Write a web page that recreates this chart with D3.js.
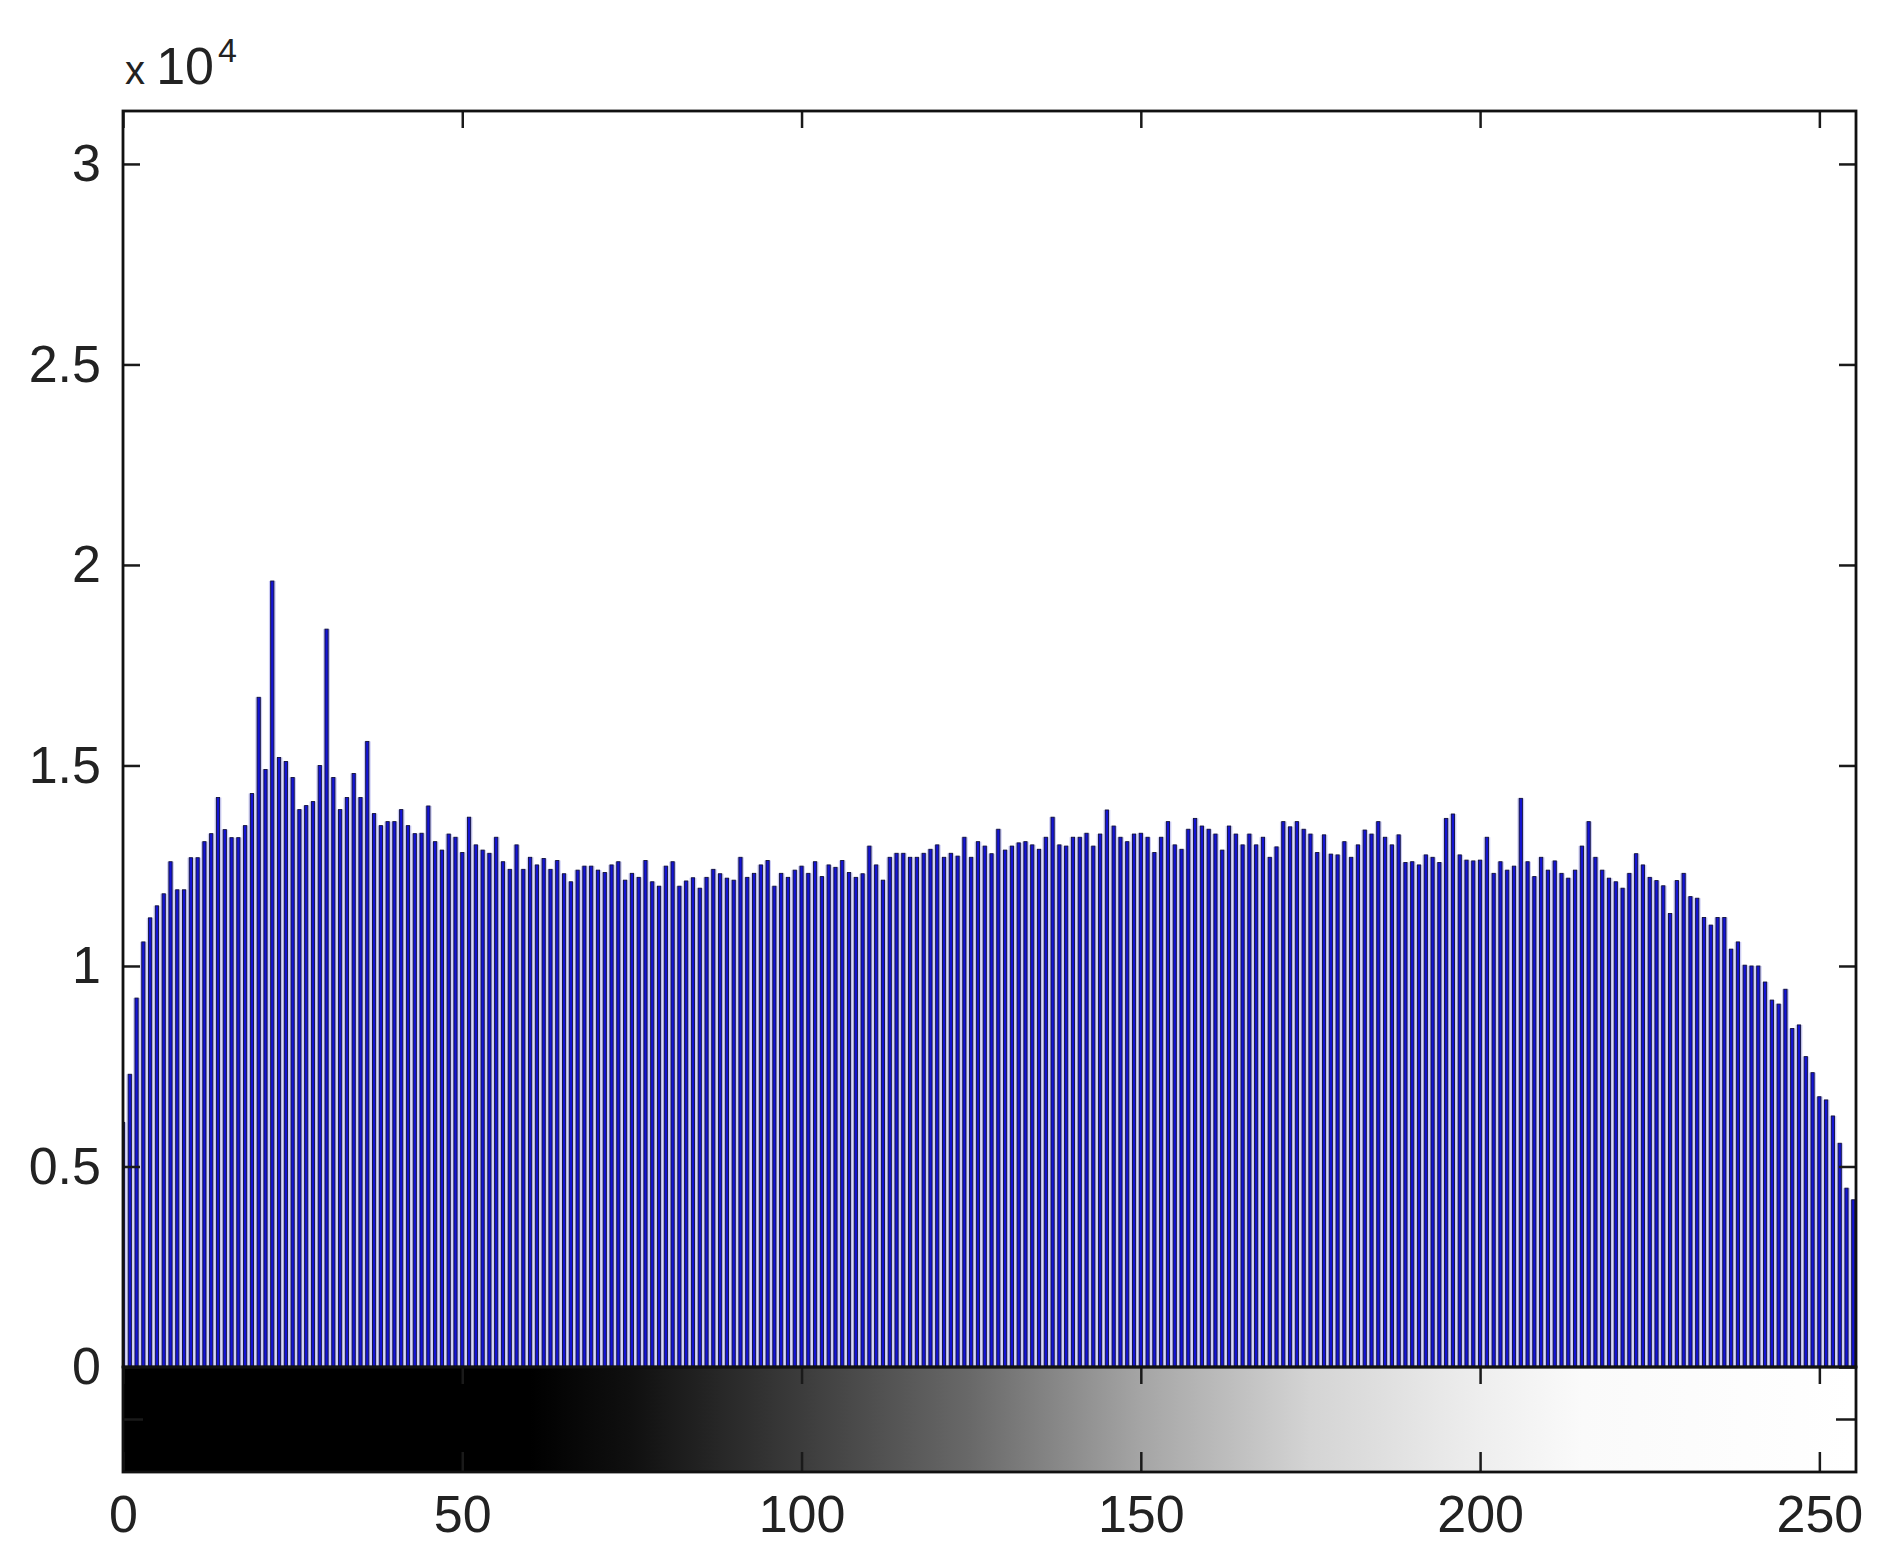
<!DOCTYPE html>
<html>
<head>
<meta charset="utf-8">
<script src="https://cdn.jsdelivr.net/npm/d3@7"></script>
<style>
  body { margin: 0; background: #fff; }
  svg { display: block; }
  .tick text { font-family: "Liberation Sans Narrow", "Arial Narrow", "Liberation Sans", sans-serif; font-size: 52px; fill: #222; }
</style>
</head>
<body>
<div id="chart"></div>
<script>
// histogram counts, in units of 10^4, one value per gray level 0..255
var countsE4 = [
  0.61,0.73,0.92,1.06,1.12,1.15,1.18,1.26,1.19,1.19,1.27,1.27,1.31,1.33,1.42,1.34,1.32,1.32,1.35,1.43,1.67,1.49,
  1.96,1.52,1.51,1.47,1.39,1.40,1.41,1.50,1.84,1.47,1.39,1.42,1.48,1.42,1.56,1.38,1.35,1.36,1.36,1.39,1.35,1.33,
  1.331,1.399,1.310,1.289,1.329,1.321,1.283,1.371,1.302,1.289,1.281,1.321,1.260,1.241,1.302,1.241,1.271,1.252,
  1.268,1.241,1.263,1.230,1.210,1.239,1.249,1.249,1.239,1.233,1.252,1.260,1.214,1.231,1.221,1.263,1.210,1.199,
  1.249,1.260,1.199,1.212,1.220,1.194,1.221,1.241,
  1.230,1.219,1.214,1.271,1.221,1.231,1.252,1.263,1.199,1.231,1.221,1.239,1.249,1.231,1.260,1.223,1.252,1.246,
  1.263,1.233,1.221,1.230,1.299,1.252,1.214,1.271,1.281,1.281,1.271,1.271,1.281,1.291,1.302,1.271,1.281,1.274,
  1.321,1.271,1.310,1.299,1.280,1.341,1.289,1.299,
  1.307,1.310,1.302,1.291,1.321,1.371,1.302,1.299,1.321,1.321,1.331,1.299,1.329,1.389,1.349,1.321,1.310,1.329,
  1.331,1.321,1.283,1.321,1.360,1.302,1.291,1.341,1.368,1.349,1.341,1.329,1.289,1.349,1.329,1.302,1.329,1.302,
  1.321,1.271,1.297,1.360,1.347,1.360,1.341,1.329,
  1.283,1.327,1.279,1.277,1.310,1.271,1.302,1.339,1.329,1.360,1.321,1.302,1.327,1.258,1.260,1.252,1.277,1.271,
  1.258,1.368,1.379,1.277,1.264,1.262,1.264,1.321,1.231,1.260,1.239,1.249,1.418,1.260,1.223,1.271,1.239,1.262,
  1.231,1.219,1.239,1.299,1.360,1.271,1.239,1.219,1.210,
  1.194,1.231,1.280,1.252,1.221,1.213,1.200,1.131,1.213,1.231,1.173,1.169,1.121,1.102,1.121,1.121,1.042,1.060,
  1.002,1.000,1.000,0.960,0.915,0.905,0.942,0.844,0.853,0.774,0.734,0.674,0.666,0.626,0.558,0.446,0.417
];
var yTicks = [0, 0.5, 1, 1.5, 2, 2.5, 3];
var yTickLabels = ["0", "0.5", "1", "1.5", "2", "2.5", "3"];
var xTicks = [0, 50, 100, 150, 200, 250];

// gray ramp of the colour bar as it shows in the picture (level -> shade)
var rampLevels = [0, 60, 75, 100, 125, 150, 175, 200, 215, 255];
var rampShades = [0, 0, 16, 60, 105, 165, 212, 238, 250, 255];

var W = 1900, H = 1564;
var plotLeft = 123, plotRight = 1856, plotTop = 111, zeroY = 1367, barBottom = 1472;
var tickLen = 17;

var x = d3.scaleLinear().domain([0, 255.4]).range([plotLeft, plotRight]);
var y = d3.scaleLinear().domain([0, 3.132]).range([zeroY, plotTop]);
var step = x(1) - x(0);

var svg = d3.select("#chart").append("svg")
    .attr("width", W)
    .attr("height", H);

var defs = svg.append("defs");
defs.append("clipPath").attr("id", "plotclip")
  .append("rect")
    .attr("x", plotLeft).attr("y", plotTop)
    .attr("width", plotRight - plotLeft).attr("height", zeroY - plotTop);

// gradient for the gray colour bar
var grad = defs.append("linearGradient")
    .attr("id", "grayramp")
    .attr("x1", "0%").attr("x2", "100%").attr("y1", "0%").attr("y2", "0%");
rampLevels.forEach(function(v, i) {
  var s = rampShades[i];
  grad.append("stop")
    .attr("offset", ((x(v) - plotLeft) / (plotRight - plotLeft) * 100) + "%")
    .attr("stop-color", d3.rgb(s, s, s));
});

// histogram stems
var plot = svg.append("g").attr("clip-path", "url(#plotclip)");

plot.selectAll("rect.bg")
  .data(countsE4)
  .enter().append("rect")
    .attr("class", "bg")
    .attr("x", function(d, i) { return x(i) - step / 2; })
    .attr("y", function(d) { return y(d); })
    .attr("width", step)
    .attr("height", function(d) { return zeroY - y(d); })
    .attr("fill", "#cdcdf3");

plot.selectAll("rect.stem")
  .data(countsE4)
  .enter().append("rect")
    .attr("class", "stem")
    .attr("x", function(d, i) { return x(i) - 1.6; })
    .attr("y", function(d) { return y(d); })
    .attr("width", 3.2)
    .attr("height", function(d) { return zeroY - y(d); })
    .attr("fill", "#1414d4")
    .attr("stroke", "#12123a")
    .attr("stroke-width", 0.9);

// colour bar
svg.append("rect")
    .attr("x", plotLeft).attr("y", zeroY)
    .attr("width", plotRight - plotLeft).attr("height", barBottom - zeroY)
    .attr("fill", "url(#grayramp)");

// axes
function styleAxis(g, showText) {
  g.select(".domain").remove();
  g.selectAll(".tick line").attr("stroke", "#1a1a1a").attr("stroke-width", 2.5);
  if (!showText) g.selectAll(".tick text").remove();
}

svg.append("g")
    .attr("transform", "translate(" + plotLeft + ",0)")
    .call(d3.axisLeft(y).tickValues(yTicks)
      .tickFormat(function(d, i) { return yTickLabels[i]; })
      .tickSize(-tickLen).tickPadding(22))
    .call(styleAxis, true);

svg.append("g")
    .attr("transform", "translate(" + plotRight + ",0)")
    .call(d3.axisRight(y).tickValues(yTicks).tickSize(-tickLen))
    .call(styleAxis, false);

svg.append("g")
    .attr("transform", "translate(0," + plotTop + ")")
    .call(d3.axisTop(x).tickValues(xTicks).tickSize(-tickLen))
    .call(styleAxis, false);

svg.append("g")
    .attr("transform", "translate(0," + zeroY + ")")
    .call(d3.axisBottom(x).tickValues(xTicks).tickSize(tickLen))
    .call(styleAxis, false);

svg.append("g")
    .attr("transform", "translate(0," + barBottom + ")")
    .call(d3.axisBottom(x).tickValues(xTicks).tickSize(-20).tickPadding(23))
    .call(styleAxis, true);

// side ticks of the colour bar
var midBar = (zeroY + barBottom) / 2;
svg.append("line")
    .attr("x1", plotLeft).attr("x2", plotLeft + 20).attr("y1", midBar).attr("y2", midBar)
    .attr("stroke", "#1a1a1a").attr("stroke-width", 2.5);
svg.append("line")
    .attr("x1", plotRight - 20).attr("x2", plotRight).attr("y1", midBar).attr("y2", midBar)
    .attr("stroke", "#1a1a1a").attr("stroke-width", 2.5);

// frames
svg.append("rect")
    .attr("x", plotLeft).attr("y", plotTop)
    .attr("width", plotRight - plotLeft).attr("height", zeroY - plotTop)
    .attr("fill", "none").attr("stroke", "#111").attr("stroke-width", 2.8);
svg.append("rect")
    .attr("x", plotLeft).attr("y", zeroY)
    .attr("width", plotRight - plotLeft).attr("height", barBottom - zeroY)
    .attr("fill", "none").attr("stroke", "#111").attr("stroke-width", 2.8);

// exponent label
var expo = svg.append("text")
    .attr("x", plotLeft + 2)
    .attr("y", 84)
    .attr("font-family", "\"Liberation Sans Narrow\", \"Arial Narrow\", \"Liberation Sans\", sans-serif")
    .attr("fill", "#222");
expo.append("tspan").attr("font-size", "40px").text("x ");
expo.append("tspan").attr("font-size", "52px").text("10");
expo.append("tspan").attr("font-size", "34px").attr("dy", -22).attr("dx", 4).text("4");
</script>
</body>
</html>
